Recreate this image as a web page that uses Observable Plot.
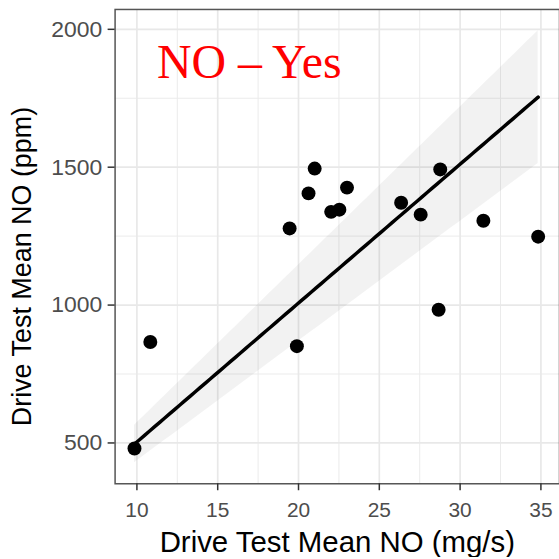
<!DOCTYPE html>
<html>
<head>
<meta charset="utf-8">
<script src="https://cdn.jsdelivr.net/npm/d3@7"></script>
<script src="https://cdn.jsdelivr.net/npm/@observablehq/plot@0.6"></script>
<style>
  html, body { margin: 0; padding: 0; background: #fff; }
  #chart { width: 559px; height: 559px; overflow: hidden; }
  svg { display: block; }
</style>
</head>
<body>
<div id="chart"></div>
<script>
// Drive-test means: emission rate (mg/s) and concentration (ppm)
const emissionRate = [9.85, 10.83, 19.45, 19.9, 20.62, 21.0, 22.02, 22.53, 23.0, 26.35, 27.56, 28.67, 28.77, 31.44, 34.83];
const concentration = [480, 866, 1278, 851, 1405, 1495, 1338, 1346, 1426, 1371, 1328, 983, 1492, 1306, 1248];

// Axis ticks and grid positions
const xTicks = [10, 15, 20, 25, 30, 35];
const yTicks = [500, 1000, 1500, 2000];
const xMinor = [12.5, 17.5, 22.5, 27.5, 32.5];
const yMinor = [750, 1250, 1750];

const panelLabel = ["NO – Yes"];
const xTitle = ["Drive Test Mean NO (mg/s)"];
const yTitle = ["Drive Test Mean NO (ppm)"];

const points = emissionRate.map((x, i) => ({x, y: concentration[i]}));

// Least-squares fit through the origin with a 95% confidence band
const n = points.length;
const sxx = d3.sum(points, d => d.x * d.x);
const sxy = d3.sum(points, d => d.x * d.y);
const slope = sxy / sxx;
const s2 = d3.sum(points, d => (d.y - slope * d.x) ** 2) / (n - 1);
const seSlope = Math.sqrt(s2 / sxx);
const tCrit = 2.1448; // t quantile 0.975, 14 df
const [xMin, xMax] = d3.extent(emissionRate);
const fit = d3.range(0, 81).map(i => {
  const x = xMin + (xMax - xMin) * i / 80;
  return {x, y: slope * x, lo: (slope - tCrit * seSlope) * x, hi: (slope + tCrit * seSlope) * x};
});

const font = "'Liberation Sans', Arial, sans-serif";

const chart = Plot.plot({
  width: 561,
  height: 559,
  marginLeft: 115,
  marginRight: 0,
  marginTop: 9,
  marginBottom: 74,
  style: {fontFamily: font, background: "#fff"},
  x: {domain: [8.65, 36.15]},
  y: {domain: [352, 2072]},
  marks: [
    Plot.gridX(xMinor, {stroke: "#ebebeb", strokeOpacity: 1, strokeWidth: 1}),
    Plot.gridY(yMinor, {stroke: "#ebebeb", strokeOpacity: 1, strokeWidth: 1}),
    Plot.gridX(xTicks, {stroke: "#e8e8e8", strokeOpacity: 1, strokeWidth: 1.7}),
    Plot.gridY(yTicks, {stroke: "#e8e8e8", strokeOpacity: 1, strokeWidth: 1.7}),
    Plot.areaY(fit, {x: "x", y1: "lo", y2: "hi", fill: "#000", fillOpacity: 0.05}),
    Plot.dot(points, {x: "x", y: "y", r: 7, fill: "#000", stroke: "none"}),
    Plot.line(fit, {x: "x", y: "y", stroke: "#000", strokeWidth: 3.5}),
    Plot.text(panelLabel, {
      frameAnchor: "top-left", textAnchor: "start", lineAnchor: "top",
      dx: 42, dy: 35, fill: "red", fontSize: 48,
      fontFamily: "'Liberation Serif', 'Times New Roman', serif"
    }),
    Plot.frame({stroke: "#555", strokeWidth: 1.5}),
    Plot.axisX(xTicks, {
      tickSize: 7, tickPadding: 11, fontSize: 21, stroke: "#333", fill: "#4d4d4d",
      strokeWidth: 1.5, label: null, tickFormat: d3.format("d")
    }),
    Plot.axisY(yTicks, {
      tickSize: 7, tickPadding: 6, fontSize: 23, stroke: "#333", fill: "#4d4d4d",
      strokeWidth: 1.5, label: null, tickFormat: d3.format("d")
    }),
    Plot.text(xTitle, {
      frameAnchor: "bottom", lineAnchor: "bottom", dy: 68,
      fontSize: 29.5, fill: "#000"
    }),
    Plot.text(yTitle, {
      frameAnchor: "left", rotate: -90, textAnchor: "middle", lineAnchor: "top",
      dx: -104, dy: 20, fontSize: 27, fill: "#000"
    })
  ]
});

document.getElementById("chart").appendChild(chart);
</script>
</body>
</html>
